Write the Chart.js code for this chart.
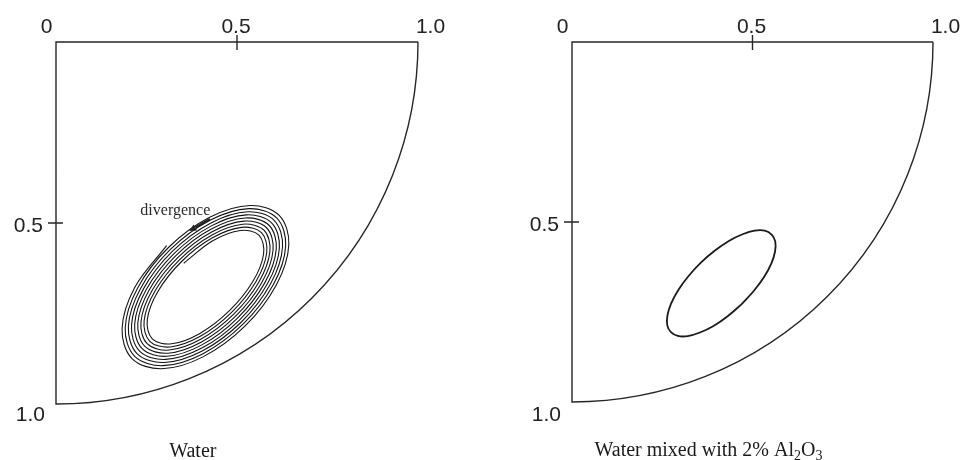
<!DOCTYPE html>
<html>
<head>
<meta charset="utf-8">
<script src="https://cdn.jsdelivr.net/npm/chart.js@4.4.1/dist/chart.umd.min.js"></script>
<style>
  html, body { margin: 0; padding: 0; background: #fff; }
  #wrap { position: relative; width: 967px; height: 460px; overflow: hidden; }
  canvas { position: absolute; top: 0; }
  #left { left: 0; }
  #right { left: 483px; }
</style>
</head>
<body>
<div id="wrap">
  <canvas id="left" width="483" height="460"></canvas>
  <canvas id="right" width="484" height="460"></canvas>
</div>
<script>
// axis ticks (top axis runs 0 -> 1 left to right, left axis 0 -> 1 top to bottom)
const topTicks = [0, 0.5, 1.0];
const topTickLabels = ['0', '0.5', '1.0'];
const leftTicks = [0.5, 1.0];
const leftTickLabels = ['0.5', '1.0'];

// pure water: diverging spiral (inner -> outer)
const spiralX = [
  0.3529, 0.4330, 0.5091,
  0.5606, 0.5735, 0.5441, 0.4798, 0.3975, 0.3192, 0.2660, 0.2522, 0.2819, 0.3476, 0.4320, 0.5125,
  0.5676, 0.5822, 0.5521, 0.4850, 0.3986, 0.3158, 0.2589, 0.2434, 0.2739, 0.3424, 0.4309, 0.5159,
  0.5746, 0.5909, 0.5602, 0.4903, 0.3996, 0.3124, 0.2519, 0.2347, 0.2658, 0.3371, 0.4299, 0.5194,
  0.5816, 0.5996, 0.5682, 0.4956, 0.4007, 0.3089, 0.2449, 0.2260, 0.2577, 0.3318, 0.4288, 0.5228,
  0.5886, 0.6084, 0.5763, 0.5008, 0.4017, 0.3055, 0.2379, 0.2173, 0.2497, 0.3266, 0.4278, 0.5262,
  0.5956, 0.6171, 0.5844, 0.5061, 0.4028, 0.3021, 0.2309, 0.2086, 0.2416, 0.3213, 0.4267, 0.5297,
  0.6026, 0.6258, 0.5924, 0.5114, 0.4038, 0.2986, 0.2239, 0.1999, 0.2335, 0.3160, 0.4256, 0.5331,
  0.6096, 0.6345, 0.6005, 0.5166, 0.4049, 0.2952, 0.2169, 0.1912, 0.2255, 0.3107, 0.4246, 0.5365,
  0.6166, 0.6432, 0.6086, 0.5219, 0.4060, 0.2918, 0.2099, 0.1825, 0.2174, 0.3055
];
const spiralY = [
  0.6111, 0.5491, 0.5206,
  0.5335, 0.5848, 0.6610, 0.7416, 0.8050, 0.8337, 0.8199, 0.7668, 0.6884, 0.6057, 0.5410, 0.5120,
  0.5267, 0.5816, 0.6622, 0.7470, 0.8131, 0.8424, 0.8267, 0.7700, 0.6871, 0.6003, 0.5329, 0.5033,
  0.5199, 0.5784, 0.6635, 0.7525, 0.8212, 0.8510, 0.8335, 0.7732, 0.6858, 0.5948, 0.5248, 0.4947,
  0.5131, 0.5752, 0.6648, 0.7579, 0.8293, 0.8596, 0.8404, 0.7764, 0.6845, 0.5894, 0.5167, 0.4861,
  0.5062, 0.5721, 0.6661, 0.7633, 0.8374, 0.8682, 0.8472, 0.7795, 0.6833, 0.5840, 0.5086, 0.4775,
  0.4994, 0.5689, 0.6674, 0.7687, 0.8455, 0.8768, 0.8540, 0.7827, 0.6820, 0.5786, 0.5005, 0.4689,
  0.4926, 0.5657, 0.6687, 0.7742, 0.8536, 0.8854, 0.8608, 0.7859, 0.6807, 0.5731, 0.4924, 0.4603,
  0.4858, 0.5625, 0.6700, 0.7796, 0.8617, 0.8941, 0.8676, 0.7891, 0.6794, 0.5677, 0.4843, 0.4516,
  0.4790, 0.5593, 0.6712, 0.7850, 0.8698, 0.9027, 0.8744, 0.7923, 0.6781, 0.5623
];

// water + 2% Al2O3: one closed cycle
const cycleX = [0.470, 0.432, 0.392, 0.3545, 0.3207, 0.2932, 0.274, 0.264, 0.2645, 0.275, 0.295, 0.323,
                0.357, 0.395, 0.4345, 0.4725, 0.506, 0.534, 0.553, 0.563, 0.5625, 0.552, 0.532, 0.504, 0.470];
const cycleY = [0.728, 0.761, 0.789, 0.807, 0.817, 0.8166, 0.806, 0.787, 0.759, 0.7255, 0.688, 0.650,
                0.613, 0.580, 0.5525, 0.534, 0.524, 0.524, 0.535, 0.554, 0.582, 0.6155, 0.653, 0.691, 0.728];

// "divergence" note: label anchor and arrow (tail, head)
const noteText = 'divergence';
const notePos = [0.3296, 0.478];
const arrowTail = [0.4254, 0.489];
const arrowHead = [0.368, 0.522];

const captionX = 0.378;

const ink = '#262626';
const sansFont = '21px "Liberation Sans", Arial, sans-serif';

function toPts(xs, ys) {
  return xs.map((x, i) => ({ x: x, y: ys[i] }));
}

function makeDecor(cfg) {
  return {
    id: 'panelDecor',
    afterDraw(chart) {
      const c = chart.ctx;
      const sx = chart.scales.x, sy = chart.scales.y;
      const x0 = sx.getPixelForValue(0), x1 = sx.getPixelForValue(1);
      const y0 = sy.getPixelForValue(0), y1 = sy.getPixelForValue(1);
      c.save();

      // frame: top axis, left axis and the quarter-circle boundary
      c.strokeStyle = ink;
      c.lineWidth = 1.4;
      c.beginPath();
      c.moveTo(x1, y0);
      c.lineTo(x0, y0);
      c.lineTo(x0, y1);
      c.ellipse(x0, y0, x1 - x0, y1 - y0, 0, Math.PI / 2, 0, true);
      c.stroke();

      // tick marks at 0.5 cross the axis lines
      const xm = sx.getPixelForValue(0.5), ym = sy.getPixelForValue(0.5);
      c.beginPath();
      c.moveTo(xm, y0 - 7); c.lineTo(xm, y0 + 8);
      c.moveTo(x0 - 8, ym); c.lineTo(x0 + 7, ym);
      c.stroke();

      // tick labels
      c.fillStyle = '#222';
      c.font = sansFont;
      c.textBaseline = 'alphabetic';
      c.textAlign = 'center';
      const topShift = [-9.5, -1, 12.5];
      topTicks.forEach((v, i) => {
        c.fillText(topTickLabels[i], sx.getPixelForValue(v) + topShift[i], y0 - 9);
      });
      c.textAlign = 'right';
      const leftShift = [[-13, 8.5], [-11, cfg.bottomLabelDy]];
      leftTicks.forEach((v, i) => {
        c.fillText(leftTickLabels[i], x0 + leftShift[i][0], sy.getPixelForValue(v) + leftShift[i][1]);
      });

      // caption under the panel (serif, with optional subscripts)
      c.fillStyle = '#1a1a1a';
      const cx = sx.getPixelForValue(captionX);
      const cy = y1 + cfg.captionDy;
      const parts = cfg.caption;
      let total = 0;
      parts.forEach(p => {
        c.font = p.sub ? '14px "Liberation Serif", "Times New Roman", serif' : '20px "Liberation Serif", "Times New Roman", serif';
        total += c.measureText(p.t).width;
      });
      let px = cx - total / 2;
      c.textAlign = 'left';
      parts.forEach(p => {
        c.font = p.sub ? '14px "Liberation Serif", "Times New Roman", serif' : '20px "Liberation Serif", "Times New Roman", serif';
        c.fillText(p.t, px, cy + (p.sub ? 4 : 0));
        px += c.measureText(p.t).width;
      });

      if (cfg.note) {
        c.font = '16px "Liberation Serif", "Times New Roman", serif';
        c.fillStyle = '#2a2a2a';
        c.textAlign = 'center';
        c.fillText(noteText, sx.getPixelForValue(notePos[0]), sy.getPixelForValue(notePos[1]));
        const ax = sx.getPixelForValue(arrowTail[0]), ay = sy.getPixelForValue(arrowTail[1]);
        const bx = sx.getPixelForValue(arrowHead[0]), by = sy.getPixelForValue(arrowHead[1]);
        const ang = Math.atan2(by - ay, bx - ax);
        const hl = 7, hw = 3.5;
        const hx = bx - hl * Math.cos(ang), hy = by - hl * Math.sin(ang);
        c.strokeStyle = '#222';
        c.lineWidth = 2.4;
        c.beginPath();
        c.moveTo(ax, ay);
        c.lineTo(hx, hy);
        c.stroke();
        c.fillStyle = '#222';
        c.beginPath();
        c.moveTo(bx, by);
        c.lineTo(hx + hw * Math.sin(ang), hy - hw * Math.cos(ang));
        c.lineTo(hx - hw * Math.sin(ang), hy + hw * Math.cos(ang));
        c.closePath();
        c.fill();
      }
      c.restore();
    }
  };
}

function panelChart(id, dataset, padding, decor) {
  return new Chart(document.getElementById(id), {
    type: 'scatter',
    data: { datasets: [dataset] },
    options: {
      responsive: false,
      animation: false,
      events: [],
      layout: { padding: padding },
      plugins: {
        legend: { display: false },
        tooltip: { enabled: false }
      },
      scales: {
        x: { type: 'linear', min: 0, max: 1, display: false },
        y: { type: 'linear', min: 0, max: 1, reverse: true, display: false }
      }
    },
    plugins: [makeDecor(decor)]
  });
}

panelChart('left', {
  data: toPts(spiralX, spiralY),
  showLine: true,
  borderColor: '#141414',
  borderWidth: 1.1,
  pointRadius: 0,
  tension: 0.35,
  fill: false
}, { left: 56, top: 42, right: 65, bottom: 56 }, {
  caption: [{ t: 'Water' }],
  captionDy: 53,
  bottomLabelDy: 17,
  note: true
});

panelChart('right', {
  data: toPts(cycleX, cycleY),
  showLine: true,
  borderColor: '#1a1a1a',
  borderWidth: 1.8,
  pointRadius: 0,
  tension: 0.35,
  fill: false
}, { left: 89, top: 42, right: 34, bottom: 58 }, {
  caption: [{ t: 'Water mixed with 2% Al' }, { t: '2', sub: true }, { t: 'O' }, { t: '3', sub: true }],
  captionDy: 54,
  bottomLabelDy: 18.5,
  note: false
});
</script>
</body>
</html>
